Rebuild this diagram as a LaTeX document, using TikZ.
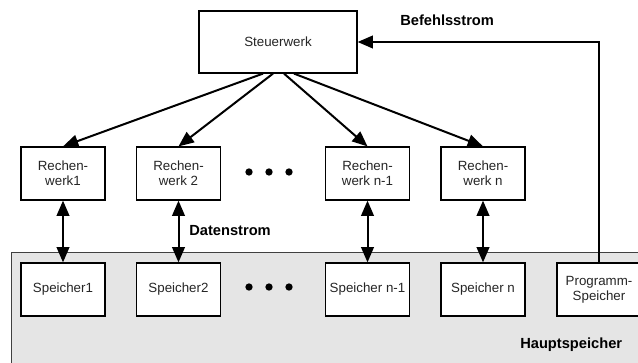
\documentclass[tikz,border=0pt]{standalone}
\usepackage{fontspec}
\setmainfont{Liberation Sans}
\usetikzlibrary{arrows.meta,calc}
\begin{document}
\begin{tikzpicture}[x=0.75pt,y=-0.75pt,
  unit/.style={draw=black, line width=0.9pt, fill=white, minimum width=63pt,
    minimum height=39.75pt, inner sep=0pt, align=center,
    font=\fontsize{10pt}{11.5pt}\selectfont, text=black!85},
  tip/.style={Triangle[length=11.5pt,width=9.5pt]},
  conn/.style={line width=1.5pt, -{Triangle[length=11.5pt,width=9.5pt]}},
  biconn/.style={line width=1.5pt, {Triangle[length=11.5pt,width=9.5pt]}-{Triangle[length=11.5pt,width=9.5pt]}},
  flowlabel/.style={font=\fontsize{11pt}{13pt}\selectfont\bfseries, anchor=west, inner sep=0pt},
  dot/.style={fill=black, circle, inner sep=0pt, minimum size=5.5pt}]
\useasboundingbox (0,0) rectangle (638,363);
\clip (0,0) rectangle (638,363);

% main memory area
\draw[draw=black!75, line width=0.7pt, fill=black!10] (11,252) rectangle (660,380);

% control unit
\node[unit, minimum width=118.5pt, minimum height=46.5pt] (steuer) at (278,42) {Steuerwerk};

% arithmetic units
\node[unit] (r1) at (63,173.5)    {Rechen-\\werk1};
\node[unit] (r2) at (178.5,173.5) {Rechen-\\werk 2};
\node[unit] (rn1) at (367.5,173.5) {Rechen-\\werk n-1};
\node[unit] (rn) at (483,173.5)   {Rechen-\\werk n};

% memory modules
\node[unit] (s1) at (63,289.5)    {Speicher1};
\node[unit] (s2) at (178.5,289.5) {Speicher2};
\node[unit] (sn1) at (367.5,289.5) {Speicher n-1};
\node[unit] (sn) at (483,289.5)   {Speicher n};
\node[unit] (prog) at (599,289.5) {Programm-\\Speicher};

% ellipses
\foreach \i/\xx in {1/249,2/269,3/289}{
  \node[dot] (du\i) at (\xx,172) {};
  \node[dot] (dl\i) at (\xx,287) {};
}

% control flow
\draw[conn] ($(steuer.south)+(-15,0)$) -- (r1.north);
\draw[conn] ($(steuer.south)+(-5,0)$) -- (r2.north);
\draw[conn] ($(steuer.south)+(6,0)$) -- (rn1.north);
\draw[conn] ($(steuer.south)+(16,0)$) -- (rn.north);

% data flow
\draw[biconn] (r1.south) -- (s1.north);
\draw[biconn] (r2.south) -- (s2.north);
\draw[biconn] (rn1.south) -- (sn1.north);
\draw[biconn] (rn.south) -- (sn.north);

% instruction flow
\draw[conn] (prog.north) |- (steuer.east);

% labels
\node[flowlabel] (befehl) at (400,20) {Befehlsstrom};
\node[flowlabel] (daten) at (189,231) {Datenstrom};
\node[flowlabel] (haupt) at (520,345) {Hauptspeicher};
\end{tikzpicture}
\end{document}
